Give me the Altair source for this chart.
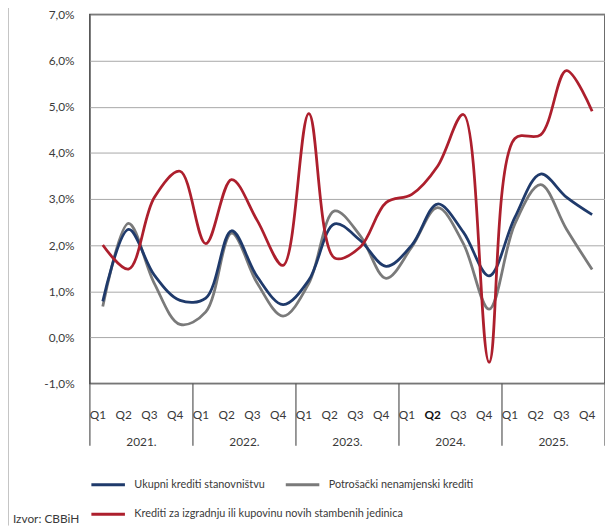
import altair as alt
import pandas as pd

# ---- data ----
idx = list(range(20))
ukupni = [0.78, 2.34, 1.35, 0.80, 0.85, 2.31, 1.31, 0.71, 1.24, 2.46,
          2.10, 1.54, 2.00, 2.89, 2.28, 1.33, 2.60, 3.54, 3.04, 2.66]
potrosacki = [0.67, 2.47, 1.17, 0.28, 0.55, 2.26, 1.17, 0.46, 1.17, 2.74,
              2.20, 1.28, 1.96, 2.81, 2.03, 0.61, 2.46, 3.31, 2.35, 1.47]
stambeni = [2.00, 1.48, 3.03, 3.60, 2.03, 3.42, 2.53, 1.56, 4.85, 1.72,
            1.96, 2.92, 3.10, 3.71, 4.83, -0.54, 4.31, 4.39, 5.78, 4.90]
series_names = ["Ukupni krediti stanovništvu",
                "Potrošački nenamjenski krediti",
                "Krediti za izgradnju ili kupovinu novih stambenih jedinica"]
colors = ["#1f3a6b", "#7a7a7a", "#ad1f2d"]
quarter_labels = ["Q1", "Q2", "Q3", "Q4"] * 5
bold_flags = [0] * 20
bold_flags[13] = 1
year_labels = ["2021.", "2022.", "2023.", "2024.", "2025."]
year_centers = [1.5, 5.5, 9.5, 13.5, 17.5]
separators = [-0.5, 3.5, 7.5, 11.5, 15.5, 19.5]
y_ticks = [-1, 0, 1, 2, 3, 4, 5, 6, 7]
source_text = ["Izvor: CBBiH"]

rows_a = []
for name, vals in [(series_names[1], potrosacki), (series_names[0], ukupni)]:
    for i, v in zip(idx, vals):
        rows_a.append({"idx": i, "value": v, "series": name})
df_a = pd.DataFrame(rows_a)
df_b = pd.DataFrame({"idx": idx, "value": stambeni, "series": series_names[2]})

qdf = pd.DataFrame({"idx": idx, "label": quarter_labels, "bold": bold_flags})
ydf = pd.DataFrame({"pos": year_centers, "label": year_labels})
sdf = pd.DataFrame({"pos": separators})

W, H = 522, 374
FONT = "Lato"
TXT = "#3a3a3a"

xscale = alt.Scale(domain=[-0.5, 19.5], nice=False, zero=False)
yscale = alt.Scale(domain=[-1, 7], nice=False, zero=False)


def yaxis():
    return alt.Axis(values=y_ticks, title=None, grid=True, gridColor="#a8a8a8",
                    gridWidth=1, domain=False, ticks=False, tickSize=0,
                    labelPadding=16, labelFontSize=12, labelFont=FONT,
                    labelColor=TXT,
                    labelExpr="replace(replace(format(datum.value, '.1f'), '.', ','), '\u2212', '-') + '%'")


def leg(y):
    return alt.Legend(orient="none", legendX=0, legendY=y, direction="horizontal",
                      columnPadding=14, symbolType="stroke", symbolSize=1156,
                      symbolStrokeWidth=3, labelOffset=8, title=None,
                      labelFontSize=11, labelFont=FONT, labelColor=TXT,
                      labelLimit=400)


lines_a = alt.Chart(df_a).mark_line(interpolate="catmull-rom", strokeWidth=2.8).encode(
    x=alt.X("idx:Q", scale=xscale, axis=None),
    y=alt.Y("value:Q", scale=yscale, axis=yaxis()),
    color=alt.Color("series:N", scale=alt.Scale(domain=series_names[:2], range=colors[:2]),
                    legend=leg(458)),
)

lines_b = alt.Chart(df_b).mark_line(interpolate="catmull-rom", strokeWidth=2.8).encode(
    x=alt.X("idx:Q", scale=xscale, axis=None),
    y=alt.Y("value:Q", scale=yscale, axis=yaxis()),
    stroke=alt.Stroke("series:N", scale=alt.Scale(domain=series_names[2:], range=colors[2:]),
                      legend=leg(488)),
)

seps = alt.Chart(sdf).mark_rule(color="#555555", strokeWidth=1.2).encode(
    x=alt.X("pos:Q", scale=xscale, axis=None),
    y=alt.value(H), y2=alt.value(H + 63))

qtext = alt.Chart(qdf).transform_filter("datum.bold == 0").mark_text(
    fontSize=12, font=FONT, color=TXT, baseline="middle", dx=-5).encode(
    x=alt.X("idx:Q", scale=xscale, axis=None), y=alt.value(H + 32), text="label:N")
qtext_b = alt.Chart(qdf).transform_filter("datum.bold == 1").mark_text(
    fontSize=12, font=FONT, color="#111111", fontWeight="bold", baseline="middle", dx=-5).encode(
    x=alt.X("idx:Q", scale=xscale, axis=None), y=alt.value(H + 32), text="label:N")
ytext = alt.Chart(ydf).mark_text(fontSize=12, font=FONT, color=TXT, baseline="middle").encode(
    x=alt.X("pos:Q", scale=xscale, axis=None), y=alt.value(H + 59), text="label:N")

src = alt.Chart(pd.DataFrame({"t": source_text})).mark_text(
    fontSize=12, font=FONT, color=TXT, align="left", baseline="middle").encode(
    x=alt.value(-78), y=alt.value(511), text="t:N")

border = alt.Chart(pd.DataFrame({"a": [0]})).mark_rule(color="#8a8a8a", strokeWidth=1).encode(
    x=alt.value(-83), y=alt.value(-11), y2=alt.value(518))

chart = alt.layer(seps, lines_a, lines_b, qtext, qtext_b, ytext, src, border).resolve_scale(
    y="shared"
).properties(
    width=W, height=H,
    autosize=alt.AutoSizeParams(type="none"),
    padding={"left": 83, "top": 3, "right": 0, "bottom": 144},
).configure_view(stroke="#3a3a3a", strokeWidth=1.5)

chart.save("out.html", embed_options={"renderer": "svg", "actions": False})
